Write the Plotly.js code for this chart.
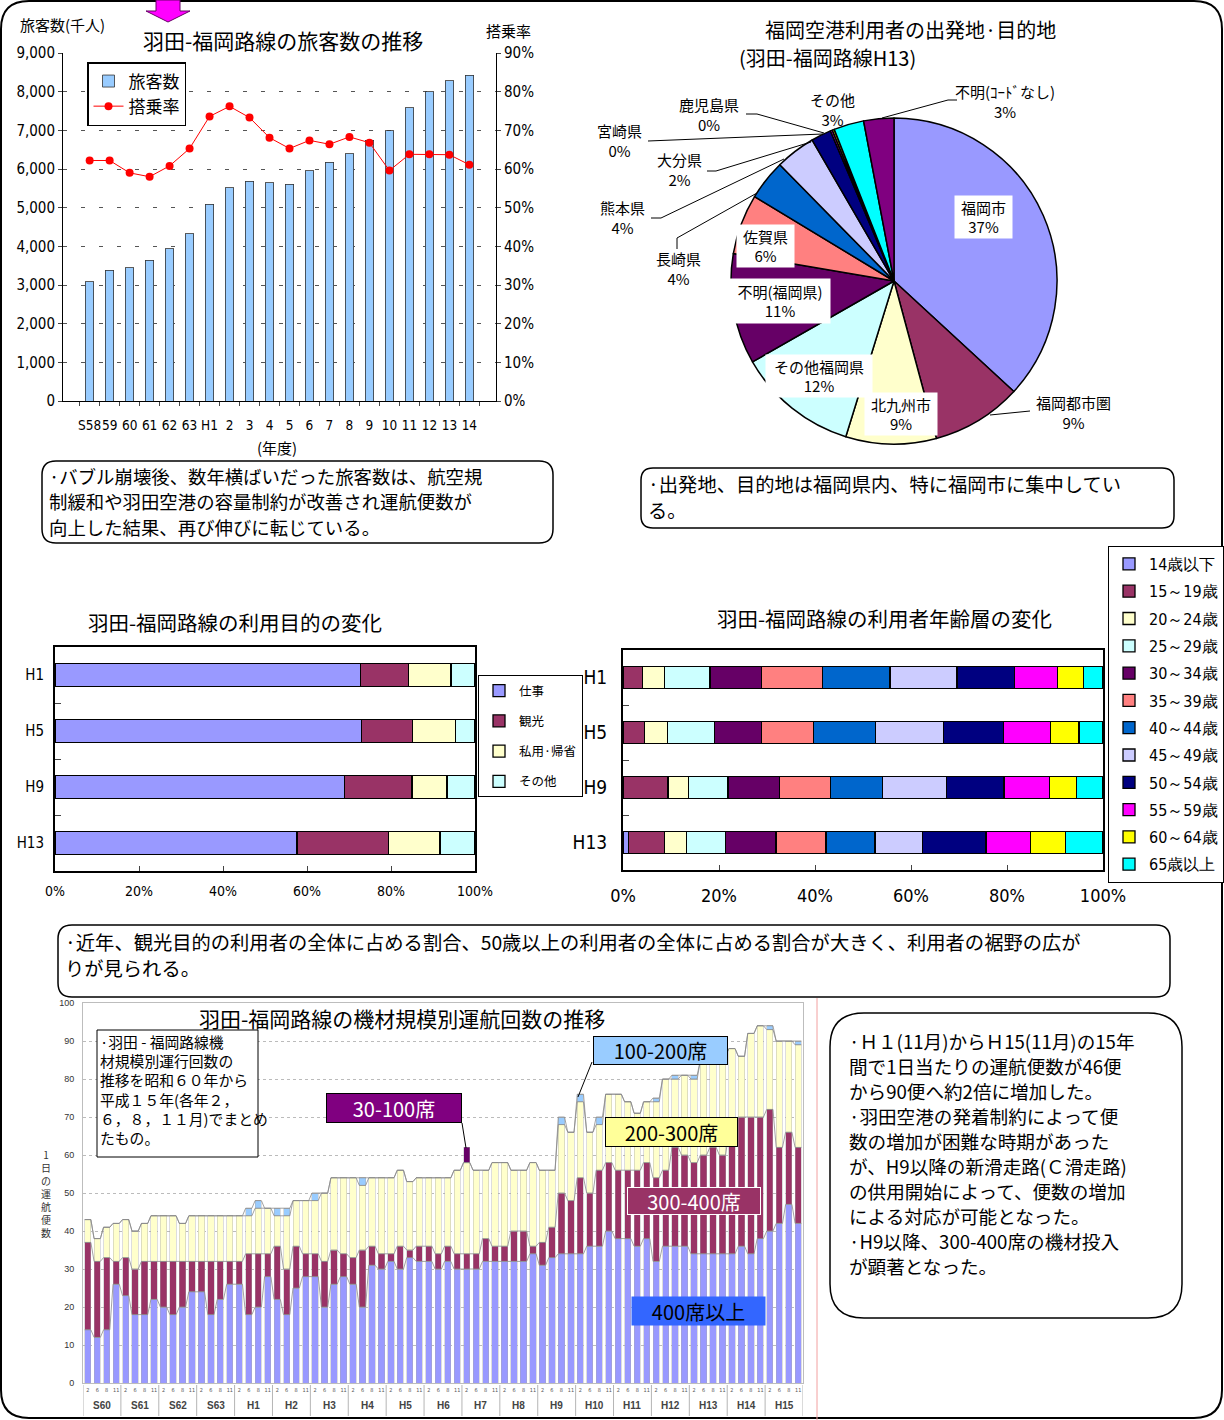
<!DOCTYPE html>
<html><head><meta charset="utf-8">
<script src="https://cdn.plot.ly/plotly-3.0.1.min.js"></script>
<style>html,body{margin:0;padding:0;background:#fff}#chart{width:1224px;height:1420px}</style>
</head><body><div id="chart"></div>
<script>
// ===== Chart 1: 旅客数 and 搭乗率 =====
const fyLabels = ['S58','59','60','61','62','63','H1','2','3','4','5','6','7','8','9','10','11','12','13','14'];
const passengers = [3080,3380,3440,3640,3940,4330,5090,5510,5680,5640,5600,5960,6180,6400,6740,6990,7590,8000,8280,8420];
const loadFactor = [62.2,62.2,59.0,58.0,60.8,65.3,73.6,76.2,73.3,68.1,65.3,67.4,66.4,68.3,66.8,59.6,63.8,63.8,63.7,61.1];

// ===== Chart 2: pie =====
const pieLabels = ['福岡市','福岡都市圏','北九州市','その他福岡県','不明(福岡県)','佐賀県','長崎県','熊本県','大分県','宮崎県','鹿児島県','その他','不明(ｺｰﾄﾞなし)'];
const pieValues = [37,9,9,12,11,6,4,4,2,0.2,0.2,3,3];
const pieColors = ['#9999FF','#993366','#FFFFCC','#CCFFFF','#660066','#FF8080','#0066CC','#CCCCFF','#000080','#FF00FF','#FFFF00','#00FFFF','#800080'];

// ===== Chart 3: 利用目的 =====
const surveyYears = ['H1','H5','H9','H13'];
const purposeNames = ['仕事','観光','私用·帰省','その他'];
const purposeColors = ['#9999FF','#993366','#FFFFCC','#CCFFFF'];
const pShigoto = [72.7,73.0,68.9,57.6];
const pKanko = [11.5,12.1,16.1,21.8];
const pShiyo = [10.1,10.2,8.3,12.3];
const pSonota = [5.7,4.7,6.7,8.3];

// ===== Chart 4: 年齢層 =====
const ageNames = ['14歳以下','15～19歳','20～24歳','25～29歳','30～34歳','35～39歳','40～44歳','45～49歳','50～54歳','55～59歳','60～64歳','65歳以上'];
const ageColors = ['#9999FF','#993366','#FFFFCC','#CCFFFF','#660066','#FF8080','#0066CC','#CCCCFF','#000080','#FF00FF','#FFFF00','#00FFFF'];
const age14 = [0,0,0,1.2];
const age15 = [4.0,4.5,9.4,7.4];
const age20 = [4.6,4.7,4.2,4.7];
const age25 = [9.5,9.8,8.3,8.0];
const age30 = [10.7,9.8,10.7,10.6];
const age35 = [12.7,10.9,10.6,10.4];
const age40 = [14.1,12.9,10.9,10.2];
const age45 = [14.0,14.2,13.3,9.9];
const age50 = [11.9,12.5,12.0,13.2];
const age55 = [9.0,9.7,9.5,9.3];
const age60 = [5.4,6.0,5.6,7.3];
const age65 = [4.1,5.0,5.5,7.8];

// ===== Chart 5: 機材規模別運航回数 =====
const flightYears = ['S60','S61','S62','S63','H1','H2','H3','H4','H5','H6','H7','H8','H9','H10','H11','H12','H13','H14','H15'];
const flightMonths = ['2','6','8','11'];
const seatNames = ['400席以上','300-400席','200-300席','100-200席','30-100席'];
const seatColors = ['#9999FF','#993366','#FFFFCC','#99CCFF','#660066'];
const seats400 = [14,12,14,26, 23,18,18,22, 20,18,20,24, 24,18,22,26, 26,18,20,28, 22,18,25,28, 28,20,26,28, 26,20,31,30, 32,30,33,32, 32,30,32,30, 30,30,32,32, 32,32,32,34, 31,33,34,34, 34,36,36,40, 38,38,36,38, 32,36,36,36, 34,34,34,34, 34,36,34,38, 40,42,47,42];
const seats300 = [23,20,19,6, 10,12,14,10, 12,14,12,8, 8,14,10,6, 6,16,14,6, 14,12,11,6, 6,12,9,6, 7,15,5,4, 2,6,2,4, 4,4,4,4, 4,4,6,4, 4,8,8,2, 6,8,16,14, 20,14,20,18, 18,18,20,20, 22,20,26,24, 24,26,28,26, 32,34,36,32, 32,20,19,20];
const seats200 = [6,6,8,10, 10,10,10,12, 12,12,10,12, 12,12,12,12, 12,10,12,12, 8,14,12,14, 14,18,19,20, 21,17,18,20, 20,20,18,18, 18,20,18,22, 24,22,18,22, 22,16,16,22, 19,15,18,18, 20,16,12,18, 20,18,15,16, 20,24,18,21, 22,25,23,26, 22,16,22,24, 21,28,24,27];
const seats100 = [0,0,0,0, 0,0,0,0, 0,0,0,0, 0,0,0,0, 0,2,2,0, 2,2,0,0, 2,0,0,0, 0,2,0,0, 0,0,0,0, 0,0,0,0, 0,0,0,0, 0,0,0,0, 0,0,2,0, 2,0,2,0, 0,0,0,0, 1,0,1,0, 1,0,0,0, 0,0,0,0, 1,0,0,1];
const seats30 = [0,0,0,0, 0,0,0,0, 0,0,0,0, 0,0,0,0, 0,0,0,0, 0,0,0,0, 0,0,0,0, 0,0,0,0, 0,0,0,0, 0,0,0,0, 4,0,0,0, 0,0,0,0, 0,0,0,0, 0,0,0,0, 0,0,0,0, 0,0,0,0, 0,0,0,0, 0,0,0,0, 0,0,0,0];

// ===== helpers =====
const W = 1224, H = 1420;
const JP = '"Noto Sans CJK JP","Noto Sans",sans-serif';
const NARROW = '"Liberation Sans Narrow","DejaVu Sans Condensed","Liberation Sans",Arial,sans-serif';
const px = v => v / W;
const py = v => 1 - v / H;
function rr(x0, y0, x1, y1, r) {
  return `M${px(x0+r)},${py(y0)} L${px(x1-r)},${py(y0)} Q${px(x1)},${py(y0)} ${px(x1)},${py(y0+r)} L${px(x1)},${py(y1-r)} Q${px(x1)},${py(y1)} ${px(x1-r)},${py(y1)} L${px(x0+r)},${py(y1)} Q${px(x0)},${py(y1)} ${px(x0)},${py(y1-r)} L${px(x0)},${py(y0+r)} Q${px(x0)},${py(y0)} ${px(x0+r)},${py(y0)} Z`;
}
function pl(pts, close) { return 'M' + pts.map(p => px(p[0]) + ',' + py(p[1])).join(' L') + (close ? ' Z' : ''); }
function A(text, x, y, size, o) {
  return Object.assign({text: text, x: px(x), y: py(y), xref: 'paper', yref: 'paper', showarrow: false,
    xanchor: 'center', yanchor: 'middle', font: {family: JP, size: size, color: '#000'}}, o || {});
}
const anns = [];
function textLines(lines, x, y0, dy, size) {
  lines.forEach((t, k) => anns.push(A(t, x, y0 + k * dy, size, {xanchor: 'left'})));
}
function note(lines, x, yTop, size) {
  anns.push(A(lines.join('<br>'), x, yTop, size, {xanchor: 'left', yanchor: 'top', align: 'left', borderpad: 0}));
}

const traces = [];
// Chart 1
traces.push({type: 'bar', name: '旅客数', x: fyLabels, y: passengers, xaxis: 'x', yaxis: 'y', width: 0.43,
  marker: {color: '#99CCFF', line: {color: '#333', width: 0.8}}, legend: 'legend', hoverinfo: 'x+y'});
traces.push({type: 'scatter', mode: 'lines+markers', name: '搭乗率', x: fyLabels, y: loadFactor, xaxis: 'x', yaxis: 'y2',
  line: {color: '#FF0000', width: 1}, marker: {color: '#FF0000', size: 8}, legend: 'legend'});
// Chart 2 pie
traces.push({type: 'pie', labels: pieLabels, values: pieValues, sort: false, direction: 'clockwise', rotation: 0,
  marker: {colors: pieColors, line: {color: '#000', width: 1.5}}, textinfo: 'none', showlegend: false,
  domain: {x: [px(731), px(1057)], y: [py(444), py(118)]}, hoverinfo: 'label+percent'});
// Chart 3
[pShigoto, pKanko, pShiyo, pSonota].forEach((vals, k) => {
  traces.push({type: 'bar', orientation: 'h', name: purposeNames[k], y: surveyYears, x: vals, xaxis: 'x3', yaxis: 'y3', width: 0.42,
    marker: {color: purposeColors[k], line: {color: '#000', width: 1.3}}, legend: 'legend2', legendgroup: 'p' + k});
});
// Chart 4
[age14, age15, age20, age25, age30, age35, age40, age45, age50, age55, age60, age65].forEach((vals, k) => {
  traces.push({type: 'bar', orientation: 'h', name: ageNames[k], y: surveyYears, x: vals, xaxis: 'x4', yaxis: 'y4', width: 0.4,
    marker: {color: ageColors[k], line: {color: '#000', width: 1.3}}, legend: 'legend3', legendgroup: 'a' + k});
});
// Chart 5
const barIdx = seats400.map((_, i) => i);
const seatSeries = [seats400, seats300, seats200, seats100, seats30];
seatSeries.forEach((vals, k) => {
  traces.push({type: 'bar', name: seatNames[k], x: barIdx, y: vals, xaxis: 'x5', yaxis: 'y5', width: 0.66,
    marker: {color: seatColors[k], line: {color: '#aaa', width: 0.4}}, showlegend: false});
});
// series lines (Excel style) connecting cumulative tops
let cum = seats400.map(() => 0);
[seats400, seats300, seats200, seats100].forEach(vals => {
  cum = cum.map((c, i) => c + vals[i]);
  const xs = [], ys = [];
  cum.forEach((v, i) => { xs.push(i - 0.33, i + 0.33); ys.push(v, v); });
  traces.push({type: 'scatter', mode: 'lines', x: xs, y: ys, xaxis: 'x5', yaxis: 'y5',
    line: {color: '#8a8a8a', width: 0.8}, hoverinfo: 'skip', showlegend: false});
});

// ===== shapes =====
const shapes = [];
const S = (path, o) => shapes.push(Object.assign({type: 'path', xref: 'paper', yref: 'paper', path: path, line: {color: '#000', width: 1.5}}, o || {}));
S(rr(1, 1, 1222, 1418, 28), {line: {color: '#000', width: 2}});
S(pl([[156,0],[180,0],[180,11],[190,11],[168,22],[146,11],[156,11]], true), {fillcolor: '#FF00FF', line: {color: '#660066', width: 1}});
S(rr(42, 461, 553, 543, 14));
S(rr(641, 468, 1174, 528, 12));
S(rr(58, 925, 1170, 997, 14));
S(rr(830, 1013, 1182, 1318, 34));
S(pl([[817,998],[817,1420]]), {line: {color: '#F2A0A0', width: 1}});
// inner description box in chart 5
S(pl([[97,1030],[258,1030],[258,1157],[97,1157]], true), {fillcolor: '#fff', line: {color: '#000', width: 1}, layer: 'above'});
// pie leader lines
const leaders = [
  [[990,415],[1030,411]],
  [[677,249],[677,238],[757,193]],
  [[651,218],[661,218],[784,159]],
  [[707,171],[716,171],[811,142]],
  [[648,141],[823,134]],
  [[746,114],[757,114],[824,133]],
  [[957,100],[948,100],[882,118]]
];
leaders.forEach(p => S(pl(p), {line: {color: '#000', width: 1}}));
// chart 5 category group dividers
for (let k = 0; k <= flightYears.length; k++) {
  shapes.push({type: 'line', xref: 'x5', yref: 'paper', x0: 4 * k - 0.5, x1: 4 * k - 0.5, y0: py(1385), y1: py(1416),
    line: {color: '#b5b5b5', width: 1}});
}

// ===== annotations =====
anns.push(A('羽田-福岡路線の旅客数の推移', 283, 40, 21));
anns.push(A('旅客数(千人)', 62, 25, 15));
anns.push(A('搭乗率', 508, 31, 15));
anns.push(A('(年度)', 277, 447, 15));
textLines(['·バブル崩壊後、数年横ばいだった旅客数は、航空規', '制緩和や羽田空港の容量制約が改善され運航便数が', '向上した結果、再び伸びに転じている。'], 47, 476, 25.5, 18.4);
anns.push(A('福岡空港利用者の出発地·目的地', 910, 30, 20));
anns.push(A('(羽田-福岡路線H13)', 737, 58, 20, {xanchor: 'left'}));
textLines(['·出発地、目的地は福岡県内、特に福岡市に集中してい', 'る。'], 646, 484, 26, 19.3);
// pie labels
const pieLabelPos = [
  [983,217,55,40],[1073,412,0,0],[901,414,70,40],[819,376,104,40],[780,301,98,42],[765,246,55,40],
  [678,269,0,0],[622,217,0,0],[679,170,0,0],[619,141,0,0],[709,114,0,0],[832,109,0,0],[1005,101,0,0]
];
pieLabels.forEach((lab, k) => {
  const p = pieLabelPos[k];
  const o = {align: 'center'};
  if (p[2]) Object.assign(o, {bgcolor: '#fff', width: p[2], height: p[3]});
  anns.push(A(lab + '<br>' + Math.round(pieValues[k]) + '%', p[0], p[1], 15, o));
});
anns.push(A('羽田-福岡路線の利用目的の変化', 235, 622, 20.5));
anns.push(A('羽田-福岡路線の利用者年齢層の変化', 884, 618, 20.5));
textLines(['·近年、観光目的の利用者の全体に占める割合、50歳以上の利用者の全体に占める割合が大きく、利用者の裾野の広が', 'りが見られる。'], 63, 942, 26, 19.3);
anns.push(A('羽田-福岡路線の機材規模別運航回数の推移', 402, 1018, 21));
note(['·羽田 - 福岡路線機', '材規模別運行回数の', '推移を昭和６０年から', '平成１５年(各年２，', '６，８，１１月)でまとめ', 'たもの。'], 99, 1030, 14.8);
anns.push(A('1<br>日<br>の<br>運<br>航<br>便<br>数', 46, 1193, 10, {font: {family: JP, size: 10, color: '#333'}}));
// seat labels
anns.push(A(seatNames[4], 394, 1108, 20, {font: {family: JP, size: 20, color: '#fff'}, bgcolor: '#800080', bordercolor: '#000', borderwidth: 1, width: 132, height: 26}));
anns.push(A(seatNames[3], 660, 1050, 20, {bgcolor: '#99CCFF', bordercolor: '#000', borderwidth: 1, width: 131, height: 25}));
anns.push(A(seatNames[2], 671, 1132, 20, {bgcolor: '#FFFF99', bordercolor: '#000', borderwidth: 1, width: 129, height: 26}));
anns.push(A(seatNames[1], 694, 1201, 20, {font: {family: JP, size: 20, color: '#fff'}, bgcolor: '#993366', bordercolor: '#fff', borderwidth: 1, width: 130, height: 24}));
anns.push(A(seatNames[0], 698, 1311, 20, {bgcolor: '#3366FF', width: 131, height: 26}));
S(pl([[462,1123],[466,1148]]), {line: {color: '#000', width: 1}});
S(pl([[592,1062],[578,1097]]), {line: {color: '#000', width: 1}});
// year labels for chart 5
flightYears.forEach((yl, k) => {
  anns.push({text: '<b>' + yl + '</b>', x: 4 * k + 1.5, y: py(1405), xref: 'x5', yref: 'paper', showarrow: false, yanchor: 'middle',
    font: {family: '"Liberation Sans",Arial,sans-serif', size: 10, color: '#444'}});
});
textLines(['·Ｈ１(11月)からＨ15(11月)の15年', '間で1日当たりの運航便数が46便', 'から90便へ約2倍に増加した。', '·羽田空港の発着制約によって便',
  '数の増加が困難な時期があった', 'が、H9以降の新滑走路(Ｃ滑走路)', 'の供用開始によって、便数の増加', 'による対応が可能となった。',
  '·H9以降、300-400席の機材投入', 'が顕著となった。'], 847, 1040, 25, 18.6);

// ===== layout =====
const tickNarrow = s => ({family: NARROW, size: s, color: '#000'});
const layout = {
  width: W, height: H, margin: {l: 0, r: 0, t: 0, b: 0},
  paper_bgcolor: '#fff', plot_bgcolor: '#fff',
  font: {family: JP, size: 14, color: '#000'},
  barmode: 'stack', hovermode: 'closest',
  xaxis: {domain: [px(63), px(496)], anchor: 'y', type: 'category', tickson: 'boundaries', ticks: 'outside', ticklen: 4, tickangle: 0,
    showline: true, linecolor: '#000', linewidth: 1, showgrid: false, tickfont: tickNarrow(13.5), ticklabelstandoff: 12},
  yaxis: {domain: [py(401), py(53)], anchor: 'x', range: [0, 9000], dtick: 1000, tickformat: ',d', showline: true, linecolor: '#000',
    ticks: 'outside', ticklen: 4, showgrid: true, gridcolor: '#555', griddash: '4px,14px', gridwidth: 1, zeroline: false, tickfont: tickNarrow(15)},
  yaxis2: {overlaying: 'y', side: 'right', anchor: 'x', range: [0, 90], dtick: 10, ticksuffix: '%', showline: true, linecolor: '#000',
    ticks: 'outside', ticklen: 4, showgrid: false, zeroline: false, tickfont: tickNarrow(15)},
  xaxis3: {domain: [px(55), px(475)], anchor: 'y3', range: [0, 100], dtick: 20, ticksuffix: '%', ticks: 'inside', ticklen: 5,
    showline: true, mirror: true, linecolor: '#000', linewidth: 2, showgrid: false, zeroline: false, tickfont: tickNarrow(14), ticklabelstandoff: 6},
  yaxis3: {domain: [py(871), py(647)], anchor: 'x3', type: 'category', autorange: 'reversed', tickson: 'boundaries', ticks: 'inside', ticklen: 6,
    showline: true, mirror: true, linecolor: '#000', linewidth: 2, showgrid: false, tickfont: tickNarrow(15), ticklabelstandoff: 6},
  xaxis4: {domain: [px(623), px(1103)], anchor: 'y4', range: [0, 100], dtick: 20, ticksuffix: '%', ticks: 'inside', ticklen: 5,
    showline: true, mirror: true, linecolor: '#000', linewidth: 2, showgrid: false, zeroline: false, tickfont: tickNarrow(18), ticklabelstandoff: 8},
  yaxis4: {domain: [py(870), py(650)], anchor: 'x4', type: 'category', autorange: 'reversed', tickson: 'boundaries', ticks: 'inside', ticklen: 6,
    showline: true, mirror: true, linecolor: '#000', linewidth: 2, showgrid: false, tickfont: tickNarrow(19), ticklabelstandoff: 10},
  xaxis5: {domain: [px(83), px(803)], anchor: 'y5', range: [-0.5, 75.5], tickvals: barIdx,
    ticktext: barIdx.map(i => flightMonths[i % 4]), tickangle: 0, tickfont: {family: NARROW, size: 5.5, color: '#555'},
    ticks: '', showline: true, mirror: true, linecolor: '#bdbdbd', showgrid: false, zeroline: false, ticklabelstandoff: 1},
  yaxis5: {domain: [py(1383), py(1003)], anchor: 'x5', range: [0, 100], dtick: 10, showline: true, mirror: true, linecolor: '#bdbdbd',
    showgrid: true, gridcolor: '#bbbbbb', griddash: 'dot', zeroline: false, ticks: '', tickfont: {family: '"Liberation Sans",Arial,sans-serif', size: 9, color: '#333'}, ticklabelstandoff: 6},
  legend: {x: px(87), y: py(62), xanchor: 'left', yanchor: 'top', bgcolor: '#fff', bordercolor: '#000', borderwidth: 1.5,
    font: {family: JP, size: 17}, traceorder: 'normal'},
  legend2: {x: px(478), y: py(675), xanchor: 'left', yanchor: 'top', bgcolor: '#fff', bordercolor: '#000', borderwidth: 1,
    font: {family: JP, size: 12.5}, traceorder: 'grouped', tracegroupgap: 11},
  legend3: {x: px(1108), y: py(546), xanchor: 'left', yanchor: 'top', bgcolor: '#fff', bordercolor: '#000', borderwidth: 1,
    font: {family: NARROW, size: 16}, traceorder: 'grouped', tracegroupgap: 3.5},
  shapes: shapes,
  annotations: anns
};
Plotly.newPlot('chart', traces, layout, {displayModeBar: false, staticPlot: true});
</script>
</body></html>
